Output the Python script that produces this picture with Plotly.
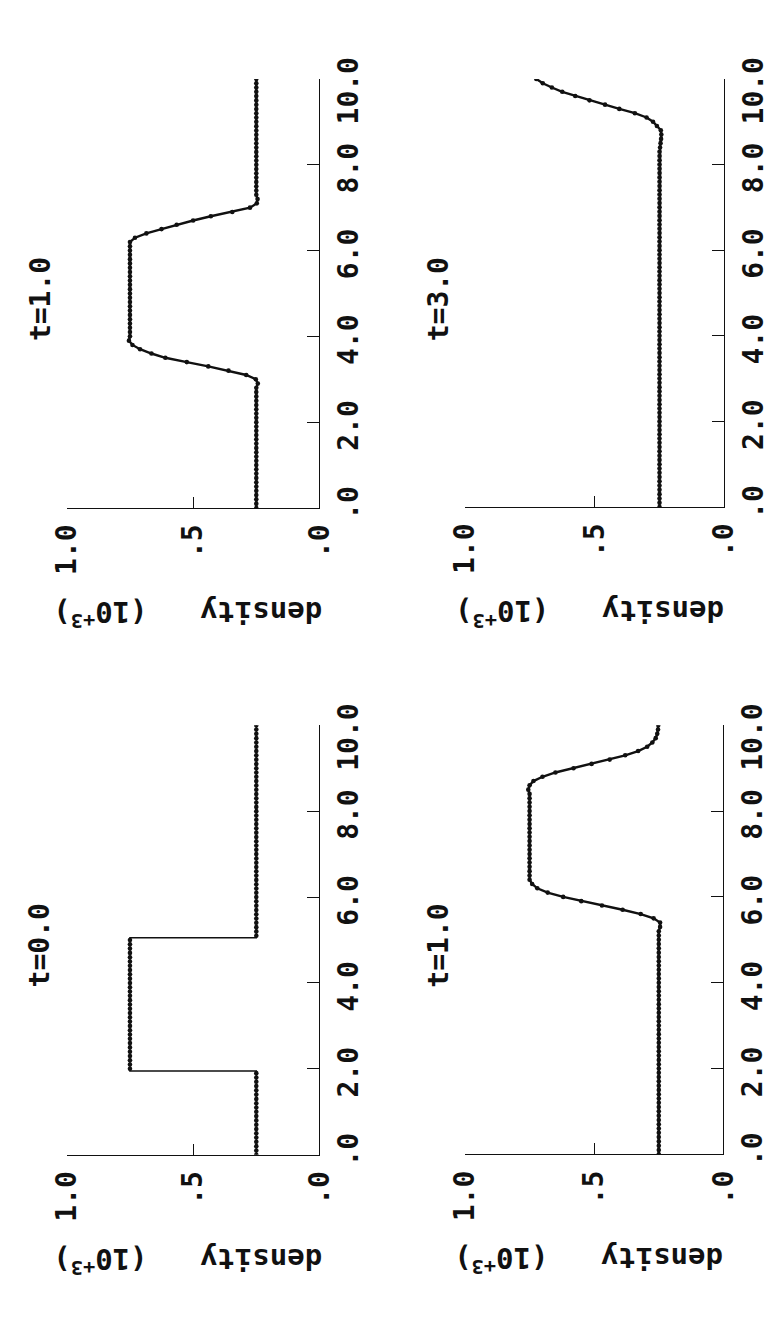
import plotly.graph_objects as go

# ---- data -------------------------------------------------------------
POSITION_GRID = [round(0.1 * i, 1) for i in range(101)]   # cell centres 0.0 .. 10.0

# t = 0.0 (initial step)
T0_DENSITY = [0.25] * 20 + [0.75] * 31 + [0.25] * 50
T0_STEP_POS = [0.0, 1.95, 1.95, 5.05, 5.05, 10.0]
T0_STEP_DENSITY = [0.25, 0.25, 0.75, 0.75, 0.25, 0.25]

# t = 1.0 (upper-left panel)
T1A_DENSITY = ([0.25] * 29 + [0.244] +
               [0.252, 0.29, 0.36, 0.44, 0.525, 0.61, 0.665, 0.71, 0.74, 0.754] +
               [0.75] * 22 +
               [0.75, 0.73, 0.685, 0.625, 0.565, 0.50, 0.43, 0.345, 0.275, 0.248, 0.245] +
               [0.25] * 28)

# t = 3.0 (upper-right panel)
T3_DENSITY = ([0.25] * 84 +
              [0.248, 0.246, 0.244, 0.243, 0.245, 0.26, 0.275, 0.30, 0.345, 0.405,
               0.46, 0.52, 0.575, 0.625, 0.665, 0.70, 0.725])

# t = 1.0 (lower-right panel)
T1B_DENSITY = ([0.25] * 53 +
               [0.245, 0.245, 0.27, 0.32, 0.39, 0.47, 0.55, 0.62, 0.68, 0.72, 0.74, 0.75] +
               [0.75] * 20 +
               [0.755, 0.75, 0.735, 0.70, 0.65, 0.58, 0.51, 0.44, 0.38, 0.33, 0.295,
                0.275, 0.262, 0.256, 0.253, 0.252])

PANEL_TITLES = ["t=1.0", "t=3.0", "t=0.0", "t=1.0"]
DENSITY_TICKS = [1.0, 0.5, 0.0]
DENSITY_TICK_TEXT = ["1.0", ".5", ".0"]
POSITION_TICKS = [0, 2, 4, 6, 8, 10]
POSITION_TICK_TEXT = ["\u00a0\u00a0.0", "\u00a02.0", "\u00a04.0", "\u00a06.0", "\u00a08.0", "10.0"]

# ---- layout geometry (pixels in a 771 x 1336 page) ----------------------
W, H = 771, 1336
FONT = "DejaVu Sans Mono"
INK = "#111111"


def px_x(v):
    return v / W


def px_y(v):
    return 1 - v / H


panels = [
    # (x_left, x_right, y_top, y_bottom)
    (52, 316, 60, 512),
    (468, 739, 60, 511),
    (52, 316, 741, 1193.5),
    (468, 738, 741, 1193),
]

curves = [
    (POSITION_GRID, T1A_DENSITY, POSITION_GRID, T1A_DENSITY, 2.4),
    (POSITION_GRID, T3_DENSITY, POSITION_GRID, T3_DENSITY, 2.4),
    (T0_STEP_POS, T0_STEP_DENSITY, POSITION_GRID, T0_DENSITY, 1.5),
    (POSITION_GRID, T1B_DENSITY, POSITION_GRID, T1B_DENSITY, 2.4),
]

fig = go.Figure()
annotations = []
for i, ((xl, xr, yt, yb), (lp, ld, mp, md, lw), title) in enumerate(zip(panels, curves, PANEL_TITLES)):
    n = "" if i == 0 else str(i + 1)
    xa, ya = "x" + n, "y" + n
    fig.add_trace(go.Scatter(x=ld, y=lp, xaxis=xa, yaxis=ya, mode="lines",
                             line=dict(color=INK, width=lw), showlegend=False,
                             hoverinfo="skip"))
    fig.add_trace(go.Scatter(x=md, y=mp, xaxis=xa, yaxis=ya, mode="markers",
                             marker=dict(color=INK, size=4.6, line=dict(width=0)),
                             showlegend=False, hoverinfo="skip"))
    axis_common = dict(showline=True, linecolor=INK, linewidth=1.4, showgrid=False,
                       zeroline=False, ticks="inside", tickcolor=INK, tickwidth=1.4,
                       tickfont=dict(family=FONT, size=28, color=INK, weight="bold"),
                       tickangle=-90)
    fig.update_layout(**{
        "xaxis" + n: dict(axis_common, domain=[px_x(xl), px_x(xr)], range=[1, 0],
                          anchor=ya, side="bottom", ticklen=11,
                          tickvals=DENSITY_TICKS, ticktext=DENSITY_TICK_TEXT,
                          ticklabelstandoff=4),
        "yaxis" + n: dict(axis_common, domain=[px_y(yb), px_y(yt)], range=[0, 10],
                          anchor=xa, side="right", ticklen=12,
                          tickvals=POSITION_TICKS, ticktext=POSITION_TICK_TEXT,
                          ticklabelshift=16, ticklabelstandoff=4),
    })
    annotations.append(dict(text=title, xref=xa + " domain", yref=ya + " domain",
                            x=-28 / (xr - xl), y=(yb - (yt + 232)) / (yb - yt),
                            showarrow=False, textangle=-90, xanchor="center", yanchor="middle",
                            font=dict(family=FONT, size=28, color=INK, weight="bold")))
    annotations.append(dict(text="density\u00a0\u00a0\u00a0(10<sup>+3</sup>)",
                            xref=xa + " domain", yref=ya + " domain",
                            x=0.48, y=-112 / (yb - yt),
                            showarrow=False, textangle=180, xanchor="center", yanchor="middle",
                            font=dict(family=FONT, size=29, color=INK, weight="bold")))

fig.update_layout(width=W, height=H, margin=dict(l=0, r=0, t=0, b=0),
                  paper_bgcolor="white", plot_bgcolor="white",
                  annotations=annotations, showlegend=False)

fig.write_html("out.html")
